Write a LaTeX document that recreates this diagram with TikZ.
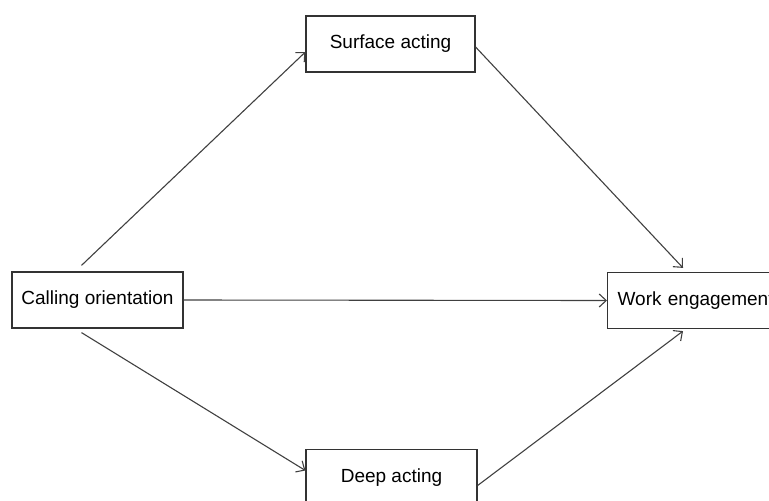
\documentclass[tikz,border=0pt]{standalone}
\usepackage{fontspec}
\setmainfont{Liberation Sans}
\usetikzlibrary{arrows.meta,positioning}

\begin{document}
\begin{tikzpicture}[x=1pt,y=-1pt,
  var/.style={rectangle,draw=black!80,line width=1.2pt,fill=white,
              minimum height=56pt,inner sep=0pt,font=\fontsize{19}{22}\selectfont},
  arr/.style={-{Straight Barb[length=7pt,width=13pt]},line width=1.1pt,color=black!75}
]
  \useasboundingbox[clip] (0,0) rectangle (769,501);

  \node[var,minimum width=171pt] (calling) at (97.5,300) {Calling orientation};
  \node[var,minimum width=169pt] (surface) at (390.5,44) {Surface acting};
  \node[var,minimum width=171pt] (deep)    at (391.5,477.5) {Deep acting};
  \node[var,anchor=west,inner xsep=10pt,text width=170pt,align=left] (work) at (607,300.5) {Work engagement};

  % paths via the mediators
  \draw[arr] ([xshift=-16pt,yshift=6pt]calling.north) -- ([yshift=-8pt]surface.west);
  \draw[arr] ([yshift=-3pt]surface.east) -- ([xshift=76pt,yshift=4pt]work.north west);
  \draw[arr] ([xshift=-16pt,yshift=-4pt]calling.south) -- ([yshift=7pt]deep.west);
  \draw[arr] ([yshift=-8pt]deep.east) -- ([xshift=76pt,yshift=-2pt]work.south west);
  % direct path
  \draw[arr] (calling.east) -- (work.west);
\end{tikzpicture}
\end{document}
